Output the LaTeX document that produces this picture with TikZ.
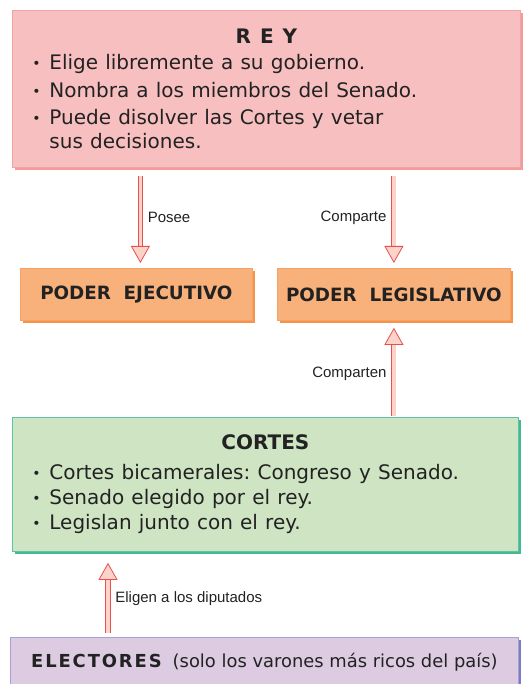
\documentclass[tikz,border=0pt]{standalone}
\usepackage{fontspec}
\setmainfont{DejaVu Sans}
\newfontfamily\narrowfont{Liberation Sans}
\usetikzlibrary{arrows.meta,shadows}

\definecolor{reyfill}{HTML}{F8BFC0}
\definecolor{reyline}{HTML}{F4A2A2}
\definecolor{reyshadow}{HTML}{F39A9A}
\definecolor{podfill}{HTML}{F8B17B}
\definecolor{podline}{HTML}{F6A266}
\definecolor{podshadow}{HTML}{F5944C}
\definecolor{corfill}{HTML}{CEE4C3}
\definecolor{corline}{HTML}{5CC3A3}
\definecolor{corshadow}{HTML}{48B893}
\definecolor{elefill}{HTML}{DDCBE2}
\definecolor{eleline}{HTML}{A8A0D4}
\definecolor{eleshadow}{HTML}{7B7BC6}
\definecolor{arrowred}{HTML}{E85050}
\definecolor{arrowfill}{HTML}{FBD3C8}
\definecolor{txt}{HTML}{222222}

\newcommand\bul{\hangindent=17pt\hangafter=1\noindent
  \makebox[17pt][l]{\fontsize{14}{14}\selectfont\raisebox{1pt}{\textbullet}}}

\tikzset{
  caja/.style={draw=#1line, fill=#1fill, line width=0.8pt, anchor=north west,
    text=txt, drop shadow={shadow xshift=3pt, shadow yshift=-3pt, fill=#1shadow, opacity=1}},
  flecha/.style={draw=arrowred, line width=0.8pt, double=arrowfill, double distance=3.5pt,
    -{Triangle[width=19pt, length=17pt, open, fill=arrowfill]}},
  rotulo/.style={font=\narrowfont\fontsize{15}{17}\selectfont, text=txt, inner sep=2pt},
}

\begin{document}
\begin{tikzpicture}[x=1pt, y=-1pt]
  \useasboundingbox (0,0) rectangle (524,684);

  % Rey
  \node[caja=rey, minimum width=508, minimum height=157, inner xsep=20pt,
        text width=468pt, align=left] (rey) at (12,10)
    {\fontsize{20}{24}\selectfont\parskip=3.5pt\frenchspacing\spaceskip=.36em
     {\centering\bfseries R\hspace{.45em}E\hspace{.45em}Y\par}\vspace{-1pt}
     \bul Elige libremente a su gobierno.\par
     \bul Nombra a los miembros del Senado.\par
     \bul Puede disolver las Cortes y vetar\hfil\break sus decisiones.\par};

  % Poderes
  \node[caja=pod, minimum width=232, minimum height=52, font=\bfseries\fontsize{18.3}{20}\selectfont]
    (eje) at (20,268) {PODER\ \ EJECUTIVO};
  \node[caja=pod, minimum width=233, minimum height=52, font=\bfseries\fontsize{18.3}{20}\selectfont]
    (leg) at (277,268) {PODER\ \ LEGISLATIVO};

  % Cortes
  \node[caja=cor, minimum width=506, minimum height=134, inner xsep=20pt,
        text width=466pt, align=left] (cortes) at (12,417)
    {\fontsize{20}{25}\selectfont\frenchspacing\spaceskip=.36em
     {\centering\bfseries CORTES\par}\vspace{5pt}
     \bul Cortes bicamerales: Congreso y Senado.\par
     \bul Senado elegido por el rey.\par
     \bul Legislan junto con el rey.\par};

  % Electores
  \node[caja=ele, minimum width=508, minimum height=50, font=\fontsize{17.9}{20}\selectfont]
    (elec) at (10,637) {\textbf{E\kern1.9pt L\kern1.9pt E\kern1.9pt C\kern1.9pt T\kern1.9pt O\kern1.9pt R\kern1.9pt E\kern1.9pt S}\hspace{11pt}(solo los varones más ricos del país)};

  % Flechas
  \coordinate (posee) at ([xshift=4pt]eje.north);
  \coordinate (ele-in) at ([xshift=98pt]elec.north west);
  \draw[flecha, shorten <=8pt, shorten >=5pt] (rey.south -| posee) -- (posee)
    node[rotulo, midway, right=5pt] {Posee};
  \draw[flecha, shorten <=8pt, shorten >=5pt] (rey.south -| leg.north) -- (leg.north)
    node[rotulo, midway, left=5pt] {Comparte};
  \draw[flecha, shorten <=1pt, shorten >=7pt] (cortes.north -| leg.south) -- (leg.south)
    node[rotulo, pos=0.45, left=5pt] {Comparten};
  \draw[flecha, shorten <=4pt, shorten >=11pt] (ele-in) -- (cortes.south -| ele-in)
    node[rotulo, pos=0.45, right=5pt] {Eligen a los diputados};

\end{tikzpicture}
\end{document}
